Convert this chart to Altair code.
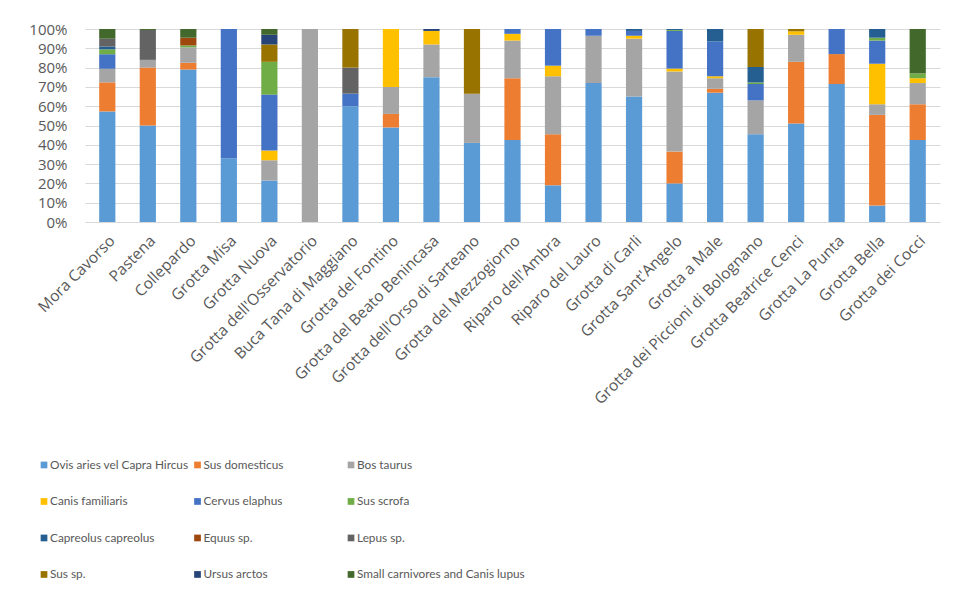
import altair as alt
import pandas as pd

sites = [
    "Mora Cavorso", "Pastena", "Collepardo", "Grotta Misa", "Grotta Nuova",
    "Grotta dell'Osservatorio", "Buca Tana di Maggiano", "Grotta del Fontino",
    "Grotta del Beato Benincasa", "Grotta dell'Orso di Sarteano",
    "Grotta del Mezzogiorno", "Riparo dell'Ambra", "Riparo del Lauro",
    "Grotta di Carli", "Grotta Sant'Angelo", "Grotta a Male",
    "Grotta dei Piccioni di Bolognano", "Grotta Beatrice Cenci",
    "Grotta La Punta", "Grotta Bella", "Grotta dei Cocci",
]

species = [
    "Ovis aries vel Capra Hircus", "Sus domesticus", "Bos taurus",
    "Canis familiaris", "Cervus elaphus", "Sus scrofa",
    "Capreolus capreolus", "Equus sp.", "Lepus sp.",
    "Sus sp.", "Ursus arctos", "Small carnivores and Canis lupus",
]

colors = [
    "#5B9BD5", "#ED7D31", "#A5A5A5",
    "#FFC000", "#4472C4", "#70AD47",
    "#255E91", "#9E480E", "#636363",
    "#997300", "#264478", "#43682B",
]

ovis       = [57, 50, 79, 33, 21.5, 0, 60, 49, 75, 41, 42.5, 19, 72, 65, 20, 67, 45.5, 51, 71.5, 8.5, 42.5]
sus_dom    = [15, 30, 3.5, 0, 0, 0, 0, 7, 0, 0, 32, 26.5, 0, 0, 16.5, 2, 0, 32, 15.5, 47, 18.5]
bos        = [7, 4, 8, 0, 10.5, 100, 0, 14, 17, 25.5, 19.5, 30, 24.5, 30, 41.5, 5.5, 17.5, 14, 0, 5.5, 11]
canis      = [0, 0, 0, 0, 5, 0, 0, 30, 7, 0, 3.5, 5.5, 0, 1.5, 1.5, 1, 0, 1.8, 0, 21, 2.5]
cervus     = [7.5, 0, 0, 67, 29, 0, 6.5, 0, 0, 0, 2.5, 19, 3.5, 2.5, 19.5, 18, 8.5, 0, 13, 12, 0]
sus_scrofa = [2.5, 0, 1, 0, 17, 0, 0, 0, 0, 0, 0, 0, 0, 0, 0.5, 0, 0.8, 0, 0, 1.5, 2.5]
capreolus  = [1.5, 0, 0, 0, 0, 0, 0, 0, 0, 0, 0, 0, 0, 1, 0.5, 6.5, 8, 0, 0, 4.5, 0]
equus      = [0, 0, 4, 0, 0, 0, 0, 0, 0, 0, 0, 0, 0, 0, 0, 0, 0, 0, 0, 0, 0]
lepus      = [4, 15.5, 0, 0, 0, 0, 13.5, 0, 0, 0, 0, 0, 0, 0, 0, 0, 0, 0, 0, 0, 0]
sus_sp     = [0, 0, 0, 0, 9, 0, 20, 0, 0, 33.5, 0, 0, 0, 0, 0, 0, 19.7, 1.2, 0, 0, 0]
ursus      = [0, 0, 0, 0, 5, 0, 0, 0, 1, 0, 0, 0, 0, 0, 0, 0, 0, 0, 0, 0, 0]
small_carn = [5, 0.5, 4.5, 0, 3, 0, 0, 0, 0, 0, 0, 0, 0, 0, 0, 0, 0, 0, 0, 0, 23]

y_ticks = [0, 0.1, 0.2, 0.3, 0.4, 0.5, 0.6, 0.7, 0.8, 0.9, 1.0]

series = [ovis, sus_dom, bos, canis, cervus, sus_scrofa, capreolus,
          equus, lepus, sus_sp, ursus, small_carn]

rows = []
for k, (sp, vals) in enumerate(zip(species, series)):
    for site, v in zip(sites, vals):
        if v > 0:
            rows.append({"site": site, "species": sp, "value": v, "ord": k})
df = pd.DataFrame(rows)

color_scale = alt.Scale(domain=species, range=colors)
TXT = "#595959"

bars = alt.Chart(df).mark_bar().encode(
    x=alt.X("site:N", sort=sites,
            scale=alt.Scale(paddingInner=0.6, paddingOuter=0.35),
            axis=alt.Axis(title=None, labelAngle=-45, labelFontSize=15.5,
                          labelColor=TXT, labelFont="Open Sans", labelLimit=400,
                          ticks=False, tickSize=0, domainColor="#D9D9D9",
                          labelPadding=11)),
    y=alt.Y("value:Q", stack="normalize",
            scale=alt.Scale(domain=[0, 1], nice=False),
            axis=alt.Axis(title=None, format=".0%", values=y_ticks,
                          grid=True, gridColor="#D9D9D9", domain=False,
                          ticks=False, tickSize=0, labelFontSize=15,
                          labelColor=TXT, labelFont="Open Sans",
                          minExtent=72, labelPadding=18)),
    color=alt.Color("species:N", scale=color_scale, legend=None),
    order=alt.Order("ord:Q", sort="ascending"),
)

# Legend drawn as its own layer (3 columns x 4 rows), with independent scales
leg_df = pd.DataFrame({
    "species": species,
    "col": [i % 3 for i in range(len(species))],
    "row": [i // 3 for i in range(len(species))],
})

leg_base = alt.Chart(leg_df).encode(
    x=alt.X("col:Q", scale=alt.Scale(domain=[0.267, 5.837], nice=False, zero=False), axis=None),
    y=alt.Y("row:Q", scale=alt.Scale(domain=[-11.945, -6.657], nice=False, zero=False, reverse=True), axis=None),
)
swatch = leg_base.mark_square(size=45, opacity=1).encode(
    color=alt.Color("species:N", scale=color_scale, legend=None))
labels = leg_base.mark_text(align="left", baseline="middle", dx=6, fontSize=11.8,
                            font="Lato", color=TXT).encode(text="species:N")

chart = alt.layer(bars, swatch, labels).resolve_scale(
    x="independent", y="independent"
).properties(
    width=855, height=193,
    padding={"left": 5, "top": 14, "right": 5, "bottom": 5},
).configure_view(stroke=None)

chart.save("out.html", embed_options={"renderer": "svg", "actions": False})
